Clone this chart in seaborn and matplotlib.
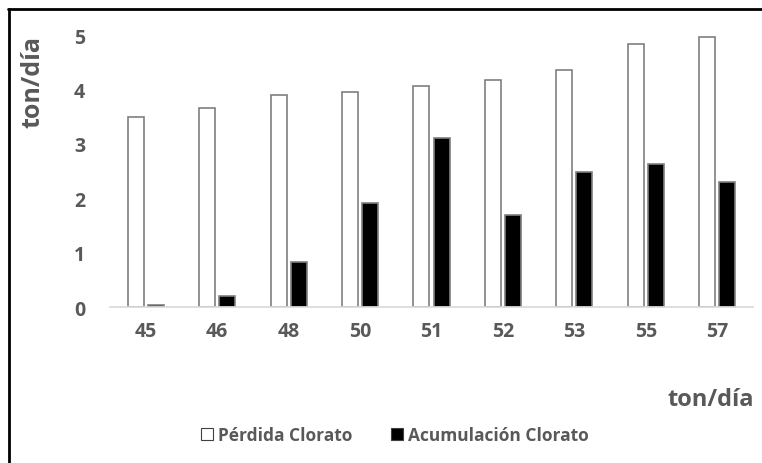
import pandas as pd
import matplotlib.pyplot as plt
import seaborn as sns
from matplotlib.lines import Line2D

# Datos
categorias = ['45', '46', '48', '50', '51', '52', '53', '55', '57']
perdida = [3.50, 3.66, 3.90, 3.95, 4.07, 4.18, 4.35, 4.84, 4.96]
acumulacion = [0.04, 0.20, 0.83, 1.92, 3.10, 1.69, 2.48, 2.63, 2.29]

df = pd.DataFrame({
    'cat': categorias * 2,
    'valor': perdida + acumulacion,
    'serie': ['Pérdida Clorato'] * len(categorias) + ['Acumulación Clorato'] * len(categorias),
})

sns.set_style("white")
plt.rcParams['font.family'] = ['Open Sans', 'DejaVu Sans']
gris = '#595959'

fig = plt.figure(figsize=(7.62, 4.64), dpi=100)
ax = fig.add_axes([110 / 762, 1 - 308 / 464, 643 / 762, 272 / 464])

sns.barplot(data=df, x='cat', y='valor', hue='serie', order=categorias,
            palette={'Pérdida Clorato': 'white', 'Acumulación Clorato': 'black'},
            width=0.56, gap=0.2, edgecolor='#7f7f7f', linewidth=1.2, ax=ax)

ax.set_ylim(0, 5)
ax.set_yticks([0, 1, 2, 3, 4, 5])
for s in ['top', 'right', 'left']:
    ax.spines[s].set_visible(False)
ax.spines['bottom'].set_color('#d9d9d9')
ax.spines['bottom'].set_linewidth(1.2)
ax.tick_params(axis='both', length=0, labelsize=14, labelcolor=gris)
ax.tick_params(axis='x', pad=10)
ax.tick_params(axis='y', pad=18)
for lab in ax.get_xticklabels() + ax.get_yticklabels():
    lab.set_fontweight('bold')

ax.set_xlabel('')
ax.set_ylabel('ton/día', fontsize=18, fontweight='bold', color=gris)
ax.yaxis.set_label_coords(-0.10, 0.83)

fig.text(668 / 762, 1 - 400 / 464, 'ton/día', fontsize=17, fontweight='bold',
         color=gris, ha='left', va='center')

sns.move_legend(ax, 'center', bbox_to_anchor=(395 / 762, 1 - 436 / 464),
                bbox_transform=fig.transFigure, ncol=2, frameon=False, title=None,
                handlelength=0.7, handleheight=0.7, handletextpad=0.3,
                columnspacing=2.2, fontsize=12.5)
leg = ax.get_legend()
for t in leg.get_texts():
    t.set_color(gris)
    t.set_fontweight('bold')
for h in leg.legend_handles:
    h.set_edgecolor('#404040')
    h.set_linewidth(0.8)

# Bordes del gráfico (solo arriba e izquierda, como en el original recortado)
fig.add_artist(Line2D([9 / 762, 9 / 762], [0, 1 - 10 / 464], color='black', lw=2, transform=fig.transFigure))
fig.add_artist(Line2D([8 / 762, 1], [1 - 10 / 464, 1 - 10 / 464], color='black', lw=2, transform=fig.transFigure))

fig.savefig('out.png', dpi=100)
